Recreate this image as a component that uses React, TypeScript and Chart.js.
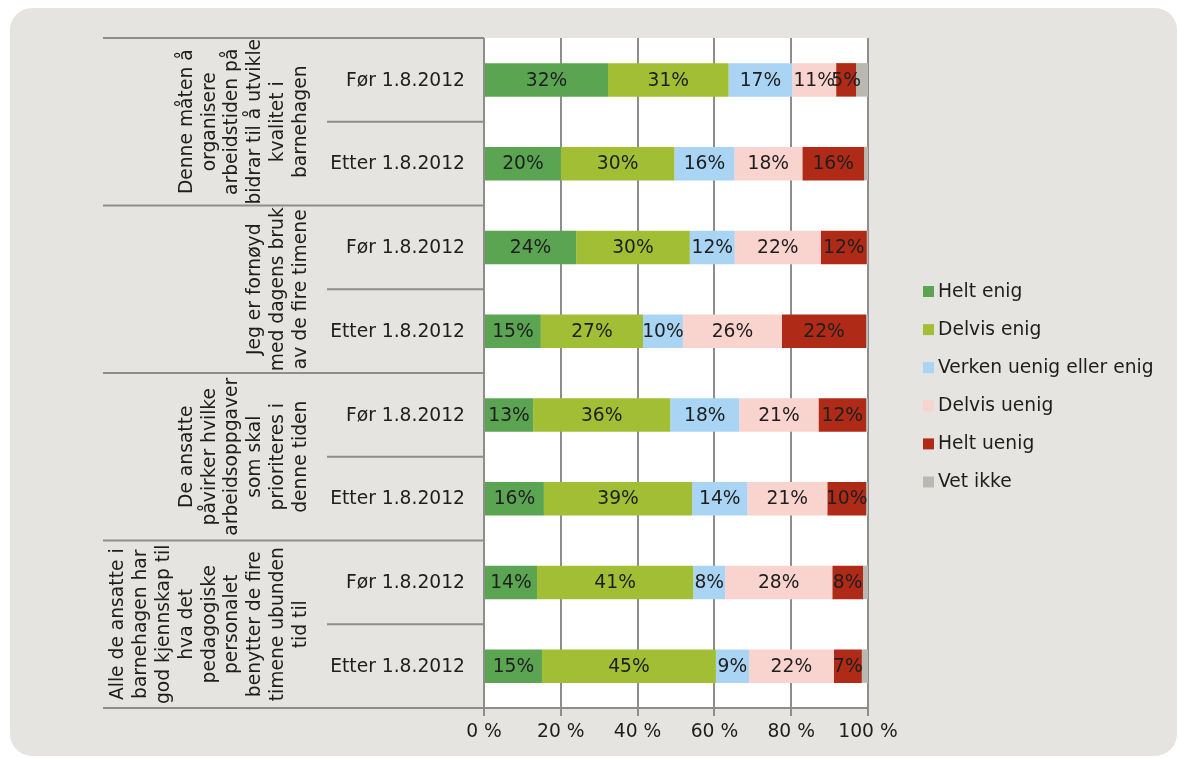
import React, { useEffect, useRef } from "react";
import { Chart, registerables } from "chart.js";

Chart.register(...registerables);

const categories = [
  "Før 1.8.2012", "Etter 1.8.2012",
  "Før 1.8.2012", "Etter 1.8.2012",
  "Før 1.8.2012", "Etter 1.8.2012",
  "Før 1.8.2012", "Etter 1.8.2012",
];

const groupLabels = [
  ["Denne måten å", "organisere", "arbeidstiden på", "bidrar til å utvikle", "kvalitet i", "barnehagen"],
  ["Jeg er fornøyd", "med dagens bruk", "av de fire timene"],
  ["De ansatte", "påvirker hvilke", "arbeidsoppgaver", "som skal", "prioriteres i", "denne tiden"],
  ["Alle de ansatte i", "barnehagen har", "god kjennskap til", "hva det", "pedagogiske", "personalet", "benytter de fire", "timene ubunden", "tid til"],
];

const seriesNames = ["Helt enig", "Delvis enig", "Verken uenig eller enig", "Delvis uenig", "Helt uenig", "Vet ikke"];
const seriesColors = ["#5ba552", "#a2be35", "#a9d4f4", "#f9d3ce", "#b02b17", "#b9b9b1"];

const heltEnig = [32.3, 20.0, 24.0, 14.8, 12.8, 15.6, 13.8, 15.1];
const delvisEnig = [31.4, 29.6, 29.6, 26.6, 35.7, 38.6, 40.7, 45.3];
const verken = [16.6, 15.6, 11.7, 10.4, 18.0, 14.4, 8.3, 8.6];
const delvisUenig = [11.4, 17.7, 22.4, 25.8, 20.6, 20.8, 27.9, 22.1];
const heltUenig = [5.2, 16.1, 12.0, 21.9, 12.4, 10.1, 8.0, 7.3];
const vetIkke = [3.1, 1.0, 0.3, 0.5, 0.5, 0.5, 1.3, 1.6];

const xTicks = [0, 20, 40, 60, 80, 100];

const FONT = "'DejaVu Sans', Verdana, sans-serif";
const FSIZE = 18.7;
const LINE = "#8d8d8d";
const TEXT = "#1e1e1e";

const decorPlugin = {
  id: "decor",
  beforeDraw(chart: any) {
    const { ctx, chartArea } = chart;
    ctx.save();
    ctx.fillStyle = "#e5e4e0";
    ctx.beginPath();
    (ctx as any).roundRect(10, 8, 1167, 748, 22);
    ctx.fill();
    ctx.fillStyle = "#ffffff";
    ctx.fillRect(chartArea.left, chartArea.top, chartArea.right - chartArea.left, chartArea.bottom - chartArea.top);
    ctx.restore();
  },
  afterDraw(chart: any) {
    const { ctx, chartArea } = chart;
    const yScale = chart.scales.y;
    const n = categories.length;
    const top = chartArea.top;
    const bottom = chartArea.bottom;
    const rowH = (bottom - top) / n;
    const leftX = 103;
    const subX = 327;
    ctx.save();
    ctx.strokeStyle = LINE;
    ctx.lineWidth = 2;
    for (let i = 0; i <= n; i++) {
      const y = top + i * rowH;
      const x0 = i % 2 === 0 ? leftX : subX;
      ctx.beginPath();
      ctx.moveTo(x0, y);
      ctx.lineTo(chartArea.left, y);
      ctx.stroke();
    }
    // category labels
    ctx.fillStyle = TEXT;
    ctx.font = FSIZE + "px " + FONT;
    ctx.textAlign = "right";
    ctx.textBaseline = "middle";
    categories.forEach((c, i) => {
      const y = yScale.getPixelForValue(i);
      ctx.fillText(c, 465, y + 1);
    });
    // group labels (rotated)
    const lineGap = 22.8;
    const lastLineX = 301;
    groupLabels.forEach((lines, g) => {
      const cy = top + (g * 2 + 1) * rowH;
      lines.forEach((ln, j) => {
        const x = lastLineX - (lines.length - 1 - j) * lineGap;
        ctx.save();
        ctx.translate(x, cy);
        ctx.rotate(-Math.PI / 2);
        ctx.textAlign = "center";
        ctx.textBaseline = "middle";
        ctx.fillText(ln, 0, 0);
        ctx.restore();
      });
    });
    // value labels
    ctx.textAlign = "center";
    ctx.textBaseline = "middle";
    chart.data.datasets.forEach((ds: any, di: number) => {
      if (di === 5) return;
      const meta = chart.getDatasetMeta(di);
      meta.data.forEach((bar: any, i: number) => {
        const v = ds.data[i];
        const cx = (bar.x + bar.base) / 2;
        ctx.fillStyle = TEXT;
        ctx.fillText(Math.round(v) + "%", cx, bar.y + 1);
      });
    });
    // legend
    ctx.textAlign = "left";
    ctx.textBaseline = "middle";
    seriesNames.forEach((name, i) => {
      const y = 292 + i * 38.1;
      ctx.fillStyle = seriesColors[i];
      ctx.fillRect(923, y - 6, 11, 11);
      ctx.fillStyle = TEXT;
      ctx.fillText(name, 938, y);
    });
    ctx.restore();
  },
};

export default function App() {
  const ref = useRef<HTMLCanvasElement | null>(null);
  useEffect(() => {
    if (!ref.current) return;
    const data = [heltEnig, delvisEnig, verken, delvisUenig, heltUenig, vetIkke];
    const chart = new Chart(ref.current, {
      type: "bar",
      data: {
        labels: categories,
        datasets: data.map((d, i) => ({
          label: seriesNames[i],
          data: d,
          backgroundColor: seriesColors[i],
          borderWidth: 0,
          barPercentage: 0.4,
          categoryPercentage: 1,
        })),
      },
      options: {
        indexAxis: "y",
        responsive: false,
        animation: false,
        devicePixelRatio: 1,
        layout: { padding: { left: 484, right: 310, top: 38, bottom: 0 } },
        plugins: { legend: { display: false }, tooltip: { enabled: false } },
        scales: {
          x: {
            stacked: true,
            min: 0,
            max: 100,
            afterBuildTicks: (s: any) => { s.ticks = xTicks.map((v) => ({ value: v })); },
            afterFit: (s: any) => { s.height = 50; },
            ticks: {
              callback: (v: any) => v + " %",
              font: { family: FONT, size: FSIZE },
              color: TEXT,
              padding: 5,
              maxRotation: 0,
            },
            grid: { color: LINE, lineWidth: 2, tickLength: 8, drawOnChartArea: true },
            border: { display: true, color: LINE, width: 2 },
          },
          y: {
            stacked: true,
            display: false,
          },
        },
      },
      plugins: [decorPlugin],
    });
    return () => chart.destroy();
  }, []);
  return (
    <div style={{ position: "absolute", left: 0, top: 0, width: 1178, height: 758 }}>
      <canvas ref={ref} width={1178} height={758} />
    </div>
  );
}
